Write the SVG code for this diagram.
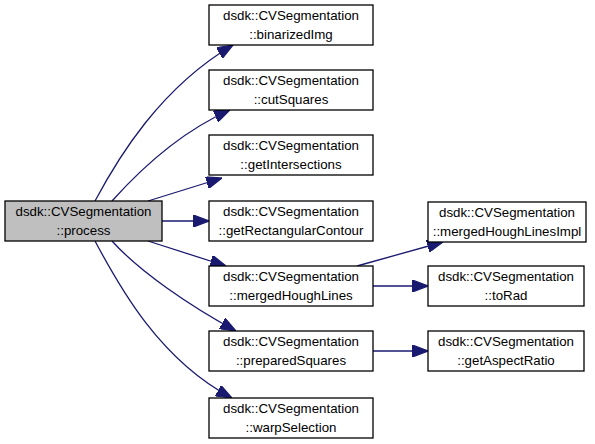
<svg xmlns="http://www.w3.org/2000/svg" width="595" height="444" viewBox="0 0 595 444">
<defs>
<style>
.node rect{fill:#ffffff;stroke:#000000;stroke-width:1.3}
.node text{font-family:"Liberation Sans",Arial,sans-serif;font-size:13.3px;fill:#000000;text-anchor:middle}
.edge{fill:none;stroke:#191970;stroke-width:1.3}
</style>
<marker id="ah" markerUnits="userSpaceOnUse" markerWidth="16" markerHeight="12" refX="13" refY="5" orient="auto" viewBox="0 0 13 10">
<polygon points="0,0 13,5 0,10" fill="#191970" stroke="#191970"/>
</marker>
</defs>
<rect width="595" height="444" fill="#ffffff"/>
<g id="edges">
<path class="edge" marker-end="url(#ah)" d="M95,201 C118,158 160,88 233,45"/>
<path class="edge" marker-end="url(#ah)" d="M112,201 C138,172 180,132 230,110"/>
<path class="edge" marker-end="url(#ah)" d="M148,201 L222,178"/>
<path class="edge" marker-end="url(#ah)" d="M162,221 L209,221"/>
<path class="edge" marker-end="url(#ah)" d="M148,241 L226,266"/>
<path class="edge" marker-end="url(#ah)" d="M112,241 C140,272 190,306 236,331"/>
<path class="edge" marker-end="url(#ah)" d="M95,241 C120,288 160,360 232,398"/>
<path class="edge" marker-end="url(#ah)" d="M357,266 L443,242"/>
<path class="edge" marker-end="url(#ah)" d="M373,286 L428,286"/>
<path class="edge" marker-end="url(#ah)" d="M373,351 L428,351"/>
</g>
<g id="process" class="node"><rect x="5" y="201" width="157" height="40" style="fill:#bfbfbf"/><text x="83.5" y="216">dsdk::CVSegmentation</text><text x="83.5" y="235">::process</text></g>
<g id="binarizedImg" class="node"><rect x="209" y="5" width="164" height="40"/><text x="291" y="20">dsdk::CVSegmentation</text><text x="291" y="39">::binarizedImg</text></g>
<g id="cutSquares" class="node"><rect x="209" y="70" width="164" height="40"/><text x="291" y="85">dsdk::CVSegmentation</text><text x="291" y="104">::cutSquares</text></g>
<g id="getIntersections" class="node"><rect x="209" y="135" width="164" height="40"/><text x="291" y="150">dsdk::CVSegmentation</text><text x="291" y="169">::getIntersections</text></g>
<g id="getRectangularContour" class="node"><rect x="209" y="201" width="164" height="40"/><text x="291" y="216">dsdk::CVSegmentation</text><text x="291" y="235">::getRectangularContour</text></g>
<g id="mergedHoughLines" class="node"><rect x="209" y="266" width="164" height="40"/><text x="291" y="281">dsdk::CVSegmentation</text><text x="291" y="300">::mergedHoughLines</text></g>
<g id="preparedSquares" class="node"><rect x="209" y="331" width="164" height="40"/><text x="291" y="346">dsdk::CVSegmentation</text><text x="291" y="365">::preparedSquares</text></g>
<g id="warpSelection" class="node"><rect x="209" y="398" width="164" height="40"/><text x="291" y="413">dsdk::CVSegmentation</text><text x="291" y="432">::warpSelection</text></g>
<g id="mergedHoughLinesImpl" class="node"><rect x="428" y="202" width="158" height="40"/><text x="507" y="217">dsdk::CVSegmentation</text><text x="507" y="236">::mergedHoughLinesImpl</text></g>
<g id="toRad" class="node"><rect x="428" y="266" width="156" height="40"/><text x="506" y="281">dsdk::CVSegmentation</text><text x="506" y="300">::toRad</text></g>
<g id="getAspectRatio" class="node"><rect x="428" y="331" width="156" height="40"/><text x="506" y="346">dsdk::CVSegmentation</text><text x="506" y="365">::getAspectRatio</text></g>
</svg>
